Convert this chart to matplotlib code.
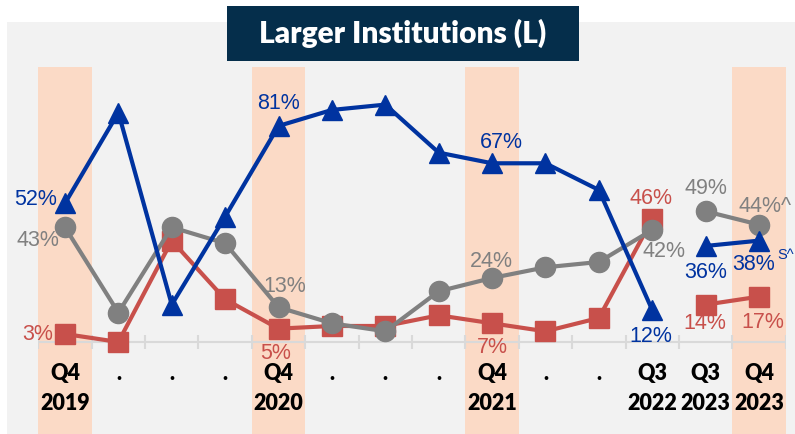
import matplotlib
matplotlib.use("Agg")
import matplotlib.pyplot as plt
from matplotlib.patches import Rectangle

# data
quarters = ["Q4", ".", ".", ".", "Q4", ".", ".", ".", "Q4", ".", ".", "Q3", "Q3", "Q4"]
years = ["2019", "", "", "", "2020", "", "", "", "2021", "", "", "2022", "2023", "2023"]
shaded = [0, 4, 8, 13]

# history (Q4 2019 .. Q3 2022) and recent (Q3 2023, Q4 2023)
blue_hist = [52, 86, 14, 47, 81, 87, 89, 71, 67, 67, 57, 12]
gray_hist = [43, 11, 43, 37, 13, 7, 4, 19, 24, 28, 30, 42]
red_hist = [3, 0, 38, 16, 5, 6, 6, 10, 7, 4, 9, 46]
blue_new = [36, 38]
gray_new = [49, 44]
red_new = [14, 17]

# labelled points
blue_labels = {0: "52%", 4: "81%", 8: "67%", 11: "12%", 12: "36%", 13: "38%"}
gray_labels = {0: "43%", 4: "13%", 8: "24%", 11: "42%", 12: "49%", 13: "44%^"}
red_labels = {0: "3%", 4: "5%", 8: "7%", 11: "46%", 12: "14%", 13: "17%"}

BLUE = "#0033a0"
GRAY = "#808080"
RED = "#c8504b"
ORANGE = "#fbdac6"
NAVY = "#052e4b"

W, H = 795, 434
fig = plt.figure(figsize=(W / 100, H / 100), dpi=100)
fig.patch.set_facecolor("white")

# gray panel and title box
fig.patches.append(Rectangle((7 / W, 0), (W - 7) / W, (H - 22) / H,
                             transform=fig.transFigure, facecolor="#f2f2f2",
                             edgecolor="none", zorder=-2))
fig.patches.append(Rectangle((227 / W, 1 - 61 / H), 352 / W, 55 / H,
                             transform=fig.transFigure, facecolor=NAVY,
                             edgecolor="none", zorder=-1))
fig.text(403 / W, 1 - 33.5 / H, "Larger Institutions (L)", color="white",
         fontsize=21.5, fontweight="heavy", family="Lato", ha="center", va="center")

ax = fig.add_axes([38.3 / W, 0, 747.4 / W, 367 / H])
ax.set_zorder(1)
ax.set_facecolor("none")
ax.set_xlim(-0.5, 13.5)
ax.set_ylim(-34.5, 103.1)
ax.axis("off")

for i in shaded:
    ax.axvspan(i - 0.5, i + 0.5, color=ORANGE, lw=0, zorder=0)

# baseline with boundary ticks
ax.plot([-0.5, 13.5], [0, 0], color="#d9d9d9", lw=1.5, zorder=1)
ax.vlines([b - 0.5 for b in range(15)], -2.7, 2.7, color="#d9d9d9", lw=1.5, zorder=1)

x_hist = list(range(len(blue_hist)))
x_new = [12, 13]
style = dict(lw=3, markersize=14.5, solid_joinstyle="miter")
ax.plot(x_hist, red_hist, color=RED, marker="s", zorder=2, **style)
ax.plot(x_new, red_new, color=RED, marker="s", zorder=2, **style)
ax.plot(x_hist, gray_hist, color=GRAY, marker="o", zorder=3, **style)
ax.plot(x_new, gray_new, color=GRAY, marker="o", zorder=3, **style)
ax.plot(x_hist, blue_hist, color=BLUE, marker="^", zorder=4, **style)
ax.plot(x_new, blue_new, color=BLUE, marker="^", zorder=4, **style)

blue_all = blue_hist + blue_new
gray_all = gray_hist + gray_new
red_all = red_hist + red_new

# pixel offsets (dx, dy, ha) for each label
blue_off = {0: (-8, 4, "right"), 4: (0, 22, "center"), 8: (9, 21, "center"),
            11: (-1, -27, "center"), 12: (0, -27, "center"), 13: (-5, -24, "center")}
gray_off = {0: (-6, -13, "right"), 4: (6, 21, "center"), 8: (-1, 16, "center"),
            11: (12, -22, "center"), 12: (0, 23, "center"), 13: (-21, 18, "left")}
red_off = {0: (-12, -1, "right"), 4: (-3, -25, "center"), 8: (0, -24, "center"),
           11: (-1, 21, "center"), 12: (-1, -19, "center"), 13: (4, -26, "center")}

for labels, offs, vals, col in [(blue_labels, blue_off, blue_all, BLUE),
                                (gray_labels, gray_off, gray_all, GRAY),
                                (red_labels, red_off, red_all, RED)]:
    for i, txt in labels.items():
        dx, dy, ha = offs[i]
        ax.annotate(txt, (i, vals[i]), xytext=(dx * 0.72, dy * 0.72),
                    textcoords="offset points", ha=ha, va="center",
                    color=col, fontsize=15.5, family="Liberation Sans", zorder=6)

# superscript on 38%
ax.annotate("S^", (13, blue_all[13]), xytext=(18 * 0.72, -14 * 0.72),
            textcoords="offset points", ha="left", va="center",
            color=BLUE, fontsize=10.5, family="Liberation Sans", zorder=6)

# category labels
for i, (q, yr) in enumerate(zip(quarters, years)):
    ax.text(i, -11.7, q, ha="center", va="center", fontsize=15.5,
            fontweight="heavy", family="Lato", color="black")
    if yr:
        ax.text(i, -23.0, yr, ha="center", va="center", fontsize=15.5,
                fontweight="heavy", family="Lato", color="black")

fig.savefig("out.png", dpi=100)
